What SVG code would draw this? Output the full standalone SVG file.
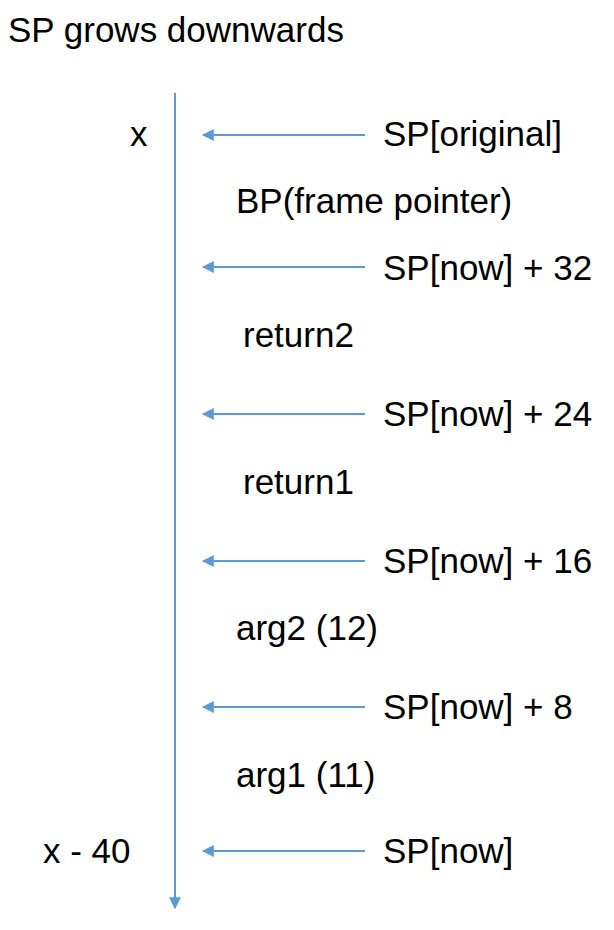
<svg xmlns="http://www.w3.org/2000/svg" width="614" height="930" viewBox="0 0 614 930">
<style>
text{font-family:"Liberation Sans",Arial,sans-serif;font-size:35px;fill:#000}
.ln{stroke:#5B9BD5;stroke-width:2;fill:none}
</style>
<defs>
<marker id="ah" viewBox="0 0 10 10" refX="9" refY="5" markerWidth="6" markerHeight="6" orient="auto" markerUnits="strokeWidth">
<path d="M0,0 L10,5 L0,10 z" fill="#5B9BD5"/>
</marker>
</defs>
<rect width="614" height="930" fill="#fff"/>
<text x="8" y="42">SP grows downwards</text>
<g id="connectors">
<line class="ln" x1="175" y1="93" x2="175" y2="908" marker-end="url(#ah)"/>
<line class="ln" x1="365" y1="135" x2="203" y2="135" marker-end="url(#ah)"/>
<line class="ln" x1="365" y1="267" x2="203" y2="267" marker-end="url(#ah)"/>
<line class="ln" x1="365" y1="414" x2="203" y2="414" marker-end="url(#ah)"/>
<line class="ln" x1="365" y1="561" x2="203" y2="561" marker-end="url(#ah)"/>
<line class="ln" x1="365" y1="707" x2="203" y2="707" marker-end="url(#ah)"/>
<line class="ln" x1="365" y1="851" x2="203" y2="851" marker-end="url(#ah)"/>
</g>
<g id="n-x"><text x="130" y="146">x</text></g>
<g id="n-sporig"><text x="383" y="146">SP[original]</text></g>
<g id="n-bp"><text x="236" y="213">BP(frame pointer)</text></g>
<g id="n-sp32"><text x="383" y="280">SP[now] + 32</text></g>
<g id="n-ret2"><text x="243" y="347">return2</text></g>
<g id="n-sp24"><text x="383" y="426">SP[now] + 24</text></g>
<g id="n-ret1"><text x="243" y="494">return1</text></g>
<g id="n-sp16"><text x="383" y="573">SP[now] + 16</text></g>
<g id="n-arg2"><text x="236" y="640">arg2 (12)</text></g>
<g id="n-sp8"><text x="383" y="719">SP[now] + 8</text></g>
<g id="n-arg1"><text x="236" y="787">arg1 (11)</text></g>
<g id="n-spnow"><text x="383" y="863">SP[now]</text></g>
<g id="n-x40"><text x="43" y="863">x - 40</text></g>
</svg>
